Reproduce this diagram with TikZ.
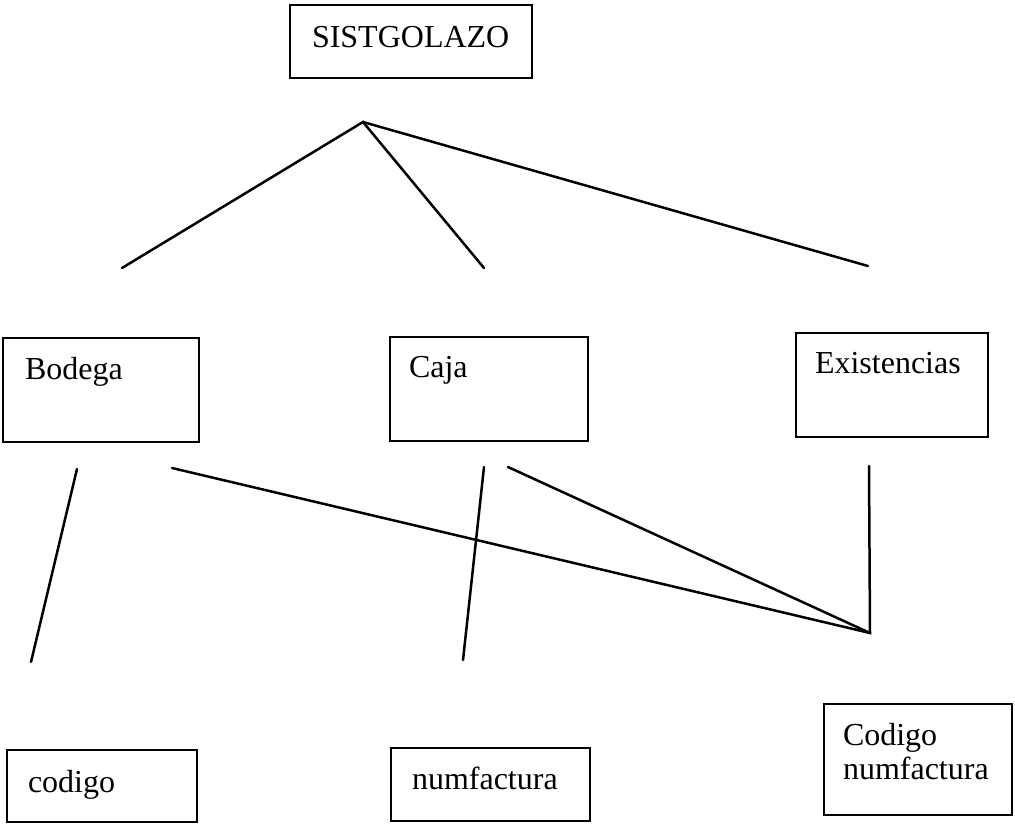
\documentclass[tikz,border=0pt]{standalone}
\usepackage{fontspec}
\setmainfont{Liberation Serif}
\usetikzlibrary{positioning}

\tikzset{
  modbox/.style={draw, line width=2.5pt, anchor=north west, outer sep=0pt,
    inner ysep=0pt, align=left, font=\fontsize{32}{34}\selectfont},
  link/.style={line width=2.5pt, line cap=round},
}

\begin{document}
\begin{tikzpicture}[x=1pt, y=-1pt]
  \useasboundingbox (0,0) rectangle (1015,825);
  % boxes
  \node[modbox, inner xsep=22pt, text width=198pt, text height=42pt, text depth=31pt] (sist) at (290,5) {SISTGOLAZO};
  \node[modbox, inner xsep=22pt, text width=152pt, text height=41pt, text depth=63pt] (bodega) at (3,338) {Bodega};
  \node[modbox, inner xsep=19pt, text width=160pt, text height=40pt, text depth=64pt] (caja) at (390,337) {Caja};
  \node[modbox, inner xsep=19pt, text width=154pt, text height=40pt, text depth=64pt] (exist) at (796,333) {Existencias};
  \node[modbox, inner xsep=21pt, text width=148pt, text height=42pt, text depth=30pt] (codigo) at (7,750) {codigo};
  \node[modbox, inner xsep=21pt, text width=157pt, text height=41pt, text depth=32pt] (numf) at (391,748) {numfactura};
  \node[modbox, inner xsep=19pt, text width=150pt, text height=41pt, text depth=70pt] (codnum) at (824,704) {Codigo\\numfactura};
  % line ends
  \coordinate (apex) at (363,122);
  \coordinate (bodegaUp) at (122,268);
  \coordinate (cajaUp) at (484,268);
  \coordinate (existUp) at (868,266);
  \coordinate (bodegaDn) at (77,469);
  \coordinate (bodegaDnB) at (172,468);
  \coordinate (cajaDn) at (484,467);
  \coordinate (cajaDnB) at (508,467);
  \coordinate (existDn) at (869,466);
  \coordinate (junc) at (870,633);
  \coordinate (codigoUp) at (31,662);
  \coordinate (numfUp) at (463,660);
  % connectors
  \draw[link] (bodegaUp) -- (apex) -- (cajaUp);
  \draw[link] (apex) -- (existUp);
  \draw[link] (bodegaDn) -- (codigoUp);
  \draw[link] (cajaDn) -- (numfUp);
  \draw[link, line join=miter] (bodegaDnB) -- (junc) -- (existDn);
  \draw[link] (cajaDnB) -- (junc);
\end{tikzpicture}
\end{document}
